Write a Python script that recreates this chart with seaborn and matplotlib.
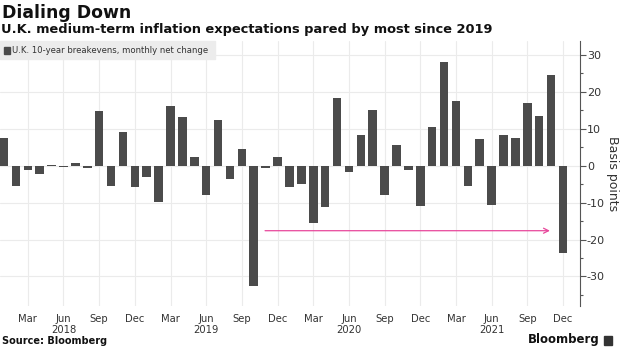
import matplotlib
matplotlib.use("Agg")
import matplotlib.pyplot as plt
import seaborn as sns
import pandas as pd
import numpy as np
from matplotlib.ticker import MultipleLocator, FuncFormatter

# ---- data ----
months = [f"{m} {y}" for y in (2018, 2019, 2020, 2021)
          for m in ("Jan", "Feb", "Mar", "Apr", "May", "Jun",
                    "Jul", "Aug", "Sep", "Oct", "Nov", "Dec")]
values_2018 = [7.5, -5.4, -1.1, -2.3, 0.3, -0.3, 0.7, -0.5, 14.9, -5.5, 9.2, -5.7]
values_2019 = [-3.1, -9.9, 16.2, 13.3, 2.5, -7.9, 12.4, -3.5, 4.6, -32.5, -0.5, 2.5]
values_2020 = [-5.8, -5.0, -15.5, -11.3, 18.4, -1.6, 8.4, 15.2, -7.9, 5.7, -1.2, -10.9]
values_2021 = [10.5, 28.0, 17.5, -5.5, 7.2, -10.6, 8.3, 7.4, 17.0, 13.6, 24.5, -23.6]
values = values_2018 + values_2019 + values_2020 + values_2021

tick_labels = ["Mar", "Jun\n2018", "Sep", "Dec",
               "Mar", "Jun\n2019", "Sep", "Dec",
               "Mar", "Jun\n2020", "Sep", "Dec",
               "Mar", "Jun\n2021", "Sep", "Dec"]
tick_months = ["Mar 2018", "Jun 2018", "Sep 2018", "Dec 2018",
               "Mar 2019", "Jun 2019", "Sep 2019", "Dec 2019",
               "Mar 2020", "Jun 2020", "Sep 2020", "Dec 2020",
               "Mar 2021", "Jun 2021", "Sep 2021", "Dec 2021"]
arrow_start_month = "Nov 2019"
arrow_level = -17.6

df = pd.DataFrame({"month": months, "change": values})

# ---- figure ----
sns.set_style("white")
plt.rcParams['font.family'] = ['DejaVu Sans']
fig = plt.figure(figsize=(6.2, 3.48), dpi=100)
ax = fig.add_axes([0.0, 1 - 306 / 348, 580 / 620, (306 - 41) / 348])

bar_color = "#4b4b4b"
sns.barplot(data=df, x="month", y="change", order=months, color=bar_color,
            width=0.72, saturation=1, ax=ax, zorder=3, linewidth=0)

ax.set_xlim(-0.336, 48.43)
ax.set_ylim(-38, 33.8)

# grid
ax.yaxis.set_major_locator(MultipleLocator(10))
ax.yaxis.set_minor_locator(MultipleLocator(5))
ax.grid(axis="y", which="major", color="#ebebeb", linewidth=0.8, zorder=0)
tick_pos = [months.index(m) for m in tick_months]
for p in tick_pos:
    ax.axvline(p, color="#ebebeb", linewidth=0.8, zorder=0)
ax.set_xticks(tick_pos)
ax.set_xticklabels(tick_labels, fontsize=7.2, color="#333333", linespacing=1.1)
ax.tick_params(axis="x", length=0, pad=6)

# y axis on right
ax.yaxis.tick_right()
ax.yaxis.set_label_position("right")
ax.yaxis.set_major_formatter(FuncFormatter(lambda v, p: f"{int(v)}"))
ax.tick_params(axis="y", which="major", length=4, width=0.8, color="#555555",
               labelsize=8, labelcolor="#333333", pad=1)
ax.tick_params(axis="y", which="minor", length=2.5, width=0.8, color="#555555")
ax.set_ylabel("Basis points", rotation=270, fontsize=9, color="#333333", labelpad=10)
ax.set_xlabel("")

for s in ("top", "left", "bottom"):
    ax.spines[s].set_visible(False)
ax.spines["right"].set_color("#555555")
ax.spines["right"].set_linewidth(0.8)

# arrow
ax.annotate("", xy=(45.9, arrow_level), xytext=(months.index(arrow_start_month) - 0.05, arrow_level),
            arrowprops=dict(arrowstyle="->", color="#e8479b", lw=0.9,
                            shrinkA=0, shrinkB=0, mutation_scale=9), zorder=4)

# legend box
fig.patches.append(plt.Rectangle((0, 1 - 59 / 348), 215 / 620, 18 / 348,
                                 transform=fig.transFigure, color="#ececec", zorder=1))
fig.patches.append(plt.Rectangle((4 / 620, 1 - 53.5 / 348), 6 / 620, 6.5 / 348,
                                 transform=fig.transFigure, color=bar_color, zorder=2))
fig.text(12 / 620, 1 - 50.3 / 348, "U.K. 10-year breakevens, monthly net change",
         fontsize=6.1, color="#333333", va="center", ha="left")

# titles
fig.text(2 / 620, 1 - 13 / 348, "Dialing Down", fontsize=12.4, fontweight="bold",
         color="#111111", va="center", ha="left")
fig.text(1 / 620, 1 - 30 / 348,
         "U.K. medium-term inflation expectations pared by most since 2019",
         fontsize=9.35, fontweight="bold", color="#111111", va="center", ha="left")

# footer
fig.text(2 / 620, 1 - 341 / 348, "Source: Bloomberg", fontsize=7, fontweight="bold",
         color="#111111", va="center", ha="left")
fig.text(600 / 620, 1 - 340 / 348, "Bloomberg", fontsize=8.5, fontweight="bold",
         color="#111111", va="center", ha="right")
fig.patches.append(plt.Rectangle((604 / 620, 1 - 345 / 348), 8 / 620, 9 / 348,
                                 transform=fig.transFigure, color="#333333", zorder=2))

fig.savefig("out.png", dpi=100)
